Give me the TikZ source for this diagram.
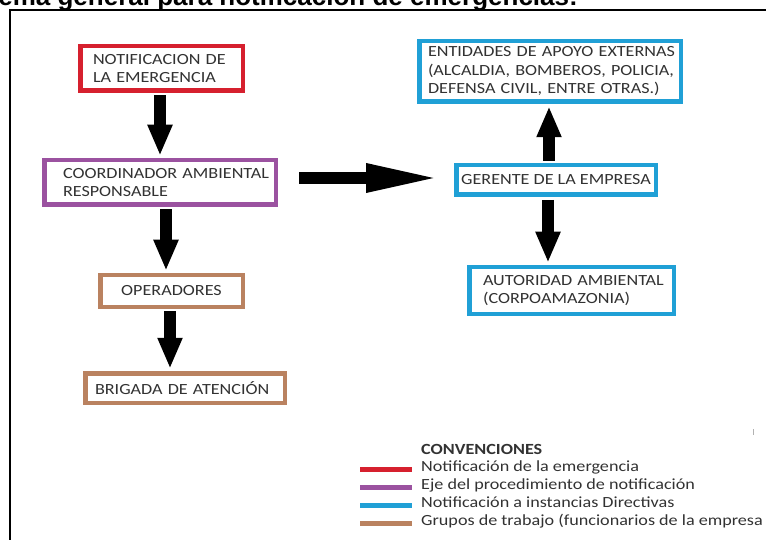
\documentclass[tikz,border=0pt]{standalone}
\usepackage{fontspec}
\usetikzlibrary{arrows.meta}
\newfontfamily\boxfont[FakeStretch=1.17]{Carlito}
\newfontfamily\titlefont{Liberation Sans}
\definecolor{cred}{RGB}{214,32,46}
\definecolor{cpurple}{RGB}{155,82,160}
\definecolor{cblue}{RGB}{32,160,214}
\definecolor{cbrown}{RGB}{186,130,96}
\definecolor{ctext}{RGB}{50,50,50}
\tikzset{
  box/.style={draw, line width=4.5pt, fill=white, text=ctext, align=left,
    inner sep=0pt, anchor=center, font=\boxfont\fontsize{15.5}{18.5}\selectfont},
  fat/.style={line width=12pt, -{Triangle[length=31pt,width=23pt]}},
  legtxt/.style={anchor=base west, inner sep=0pt, text=ctext, font=\boxfont\fontsize{15.5}{18}\selectfont},
  legbar/.style={line width=5pt}
}
\begin{document}
\begin{tikzpicture}[x=1pt,y=-1pt]
\useasboundingbox (0,0) rectangle (766,540);
\clip (0,0) rectangle (766,540);
% title (cut off at top)
\node[anchor=base east, inner sep=0pt, font=\titlefont\bfseries\fontsize{26}{30}\selectfont] (title) at (578,6) {Esquema general para notificación de emergencias:};
% frame
\draw[line width=2pt] (9.5,560) -- (9.5,10.5) -- (780,10.5);
% boxes
\node[box, draw=cred, minimum width=162.5pt, minimum height=44.5pt, text width=137pt] (notif) at (161.5,68.5) {\mbox{NOTIFICACION DE}\\\mbox{LA EMERGENCIA}};
\node[box, draw=cpurple, minimum width=231.5pt, minimum height=44.5pt, text width=194pt] (coord) at (160,182.5) {\mbox{COORDINADOR AMBIENTAL}\\\mbox{RESPONSABLE}};
\node[box, draw=cbrown, align=center, minimum width=142.5pt, minimum height=31.5pt] (oper) at (171.5,291) {OPERADORES};
\node[box, draw=cbrown, minimum width=199.5pt, minimum height=29.5pt, text width=180pt] (brig) at (185,388) {\mbox{BRIGADA DE ATENCIÓN}};
\node[box, draw=cblue, minimum width=261.5pt, minimum height=60.5pt, text width=244pt] (ent) at (550,71.5) {\mbox{ENTIDADES DE APOYO EXTERNAS}\\\mbox{(ALCALDIA, BOMBEROS, POLICIA,}\\\mbox{DEFENSA CIVIL, ENTRE OTRAS.)}};
\node[box, draw=cblue, align=center, minimum width=199.5pt, minimum height=29.5pt] (ger) at (556,180) {\mbox{GERENTE DE LA EMPRESA}};
\node[box, draw=cblue, minimum width=204.5pt, minimum height=46.5pt, text width=177pt] (aut) at (571.5,290.5) {\mbox{AUTORIDAD AMBIENTAL}\\\mbox{(CORPOAMAZONIA)}};
% arrows
\draw[fat, shorten <=2.25pt, shorten >=2.25pt] ([xshift=-1.5pt]notif.south) -- (coord.north);
\draw[fat, shorten <=2.25pt, shorten >=2.25pt] ([xshift=6pt]coord.south) -- ([xshift=-5.5pt]oper.north);
\draw[fat, shorten <=2.25pt, shorten >=2.25pt] ([xshift=-1.5pt]oper.south) -- ([xshift=-15pt]brig.north);
\draw[fat, shorten <=2.25pt, shorten >=2.25pt] ([xshift=-7pt]ger.north) -- ([xshift=-1pt]ent.south);
\draw[fat, shorten <=3pt, shorten >=2.25pt] ([xshift=-8pt]ger.south) -- ([xshift=-23.5pt]aut.north);
\draw[line width=12pt, -{Triangle[length=75pt,width=26pt]}, shorten <=21pt, shorten >=13pt] ([yshift=4.5pt]coord.east) -- ([yshift=2pt]ger.west);
% legend
\node[legtxt, font=\boxfont\bfseries\fontsize{15.5}{18}\selectfont] (ltitle) at (421,454) {CONVENCIONES};
\node[legtxt] (l1) at (421,471.5) {Notificación de la emergencia};
\node[legtxt] (l2) at (421,489.5) {Eje del procedimiento de notificación};
\node[legtxt] (l3) at (421,507.5) {Notificación a instancias Directivas};
\node[legtxt] (l4) at (421,525.5) {Grupos de trabajo (funcionarios de la empresa};
\draw[legbar, cred] (360,469) -- (412,469);
\draw[legbar, cpurple] (360,487) -- (412,487);
\draw[legbar, cblue] (360,505.5) -- (412,505.5);
\draw[legbar, cbrown] (360,523) -- (412,523);
% small mark
\draw[gray!60, line width=1pt] (753,429) -- (753,435);
\end{tikzpicture}
\end{document}
